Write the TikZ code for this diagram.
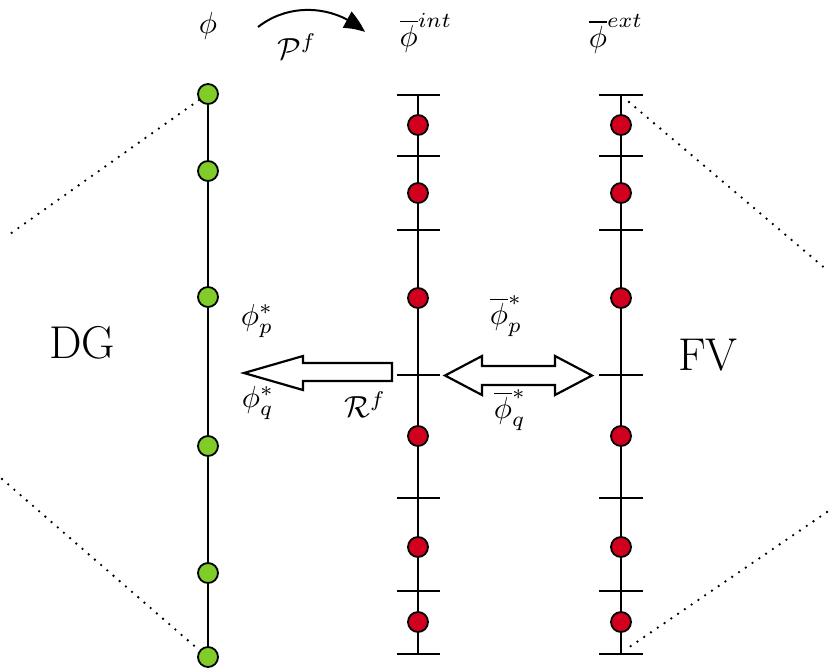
\documentclass[tikz,border=0pt]{standalone}
\usepackage{graphicx}
\usetikzlibrary{arrows.meta,bending}
\definecolor{dggreen}{RGB}{128,204,41}
\definecolor{fvred}{RGB}{208,0,30}
\newcommand{\bigmath}[1]{\scalebox{3.05}{$#1$}}
\begin{document}
\begin{tikzpicture}[x=1pt,y=-1pt,
  gdot/.style={circle,draw=black,fill=dggreen,line width=1.8pt,minimum size=20pt,inner sep=0pt},
  rdot/.style={circle,draw=black,fill=fvred,line width=1.8pt,minimum size=20pt,inner sep=0pt},
  axisline/.style={line width=2pt},
  tickline/.style={line width=2pt},
  dotline/.style={line width=2.6pt,line cap=round,dash pattern=on 0pt off 8.2pt},
  bigarrow/.style={draw=black,fill=white,line width=2.2pt,line join=miter},
  mlabel/.style={inner sep=0pt},
  tlabel/.style={font=\fontsize{46}{56}\selectfont,inner sep=0pt}]
\useasboundingbox (0,0) rectangle (829,667);

% columns
\coordinate (gtop) at (208,94);
\coordinate (gbot) at (208,657);
\coordinate (mtop) at (418,95);
\coordinate (mbot) at (418,654);
\coordinate (rtop) at (621,95);
\coordinate (rbot) at (621,654);

% dotted outlines
\coordinate (dl1) at (10,234);
\coordinate (dl2) at (2,479);
\coordinate (dr1) at (827,270);
\coordinate (dr2) at (827,512);
\draw[dotline] (199,100) -- (dl1);
\draw[dotline] (dl2) -- (199,650);
\draw[dotline] (629,102) -- (dr1);
\draw[dotline] (dr2) -- (628,648);

\draw[axisline] (gtop) -- (gbot);
\draw[axisline] (mtop) -- (mbot);
\draw[axisline] (rtop) -- (rbot);

% ticks
\foreach \y in {95,156,230,498,591,654}{
  \draw[tickline] (397,\y) -- (440,\y);
  \draw[tickline] (599,\y) -- (643,\y);
}
\draw[tickline] (397,375) -- (440,375);
\draw[tickline] (599,375) -- (643,375);

% dots
\foreach \y [count=\i] in {94,171,297,446,573,657}{
  \node[gdot] (g\i) at (208,\y) {};
}
\foreach \y [count=\i] in {125,193,298,436,547,622}{
  \node[rdot] (m\i) at (418,\y) {};
  \node[rdot] (r\i) at (621,\y) {};
}

% big arrows
\draw[bigarrow] (392,363) -- (303,363) -- (303,356) -- (244,373) -- (303,390) -- (303,381) -- (392,381) -- cycle;
\draw[bigarrow] (482,366) -- (555,366) -- (555,356) -- (592,375.5) -- (555,395) -- (555,385) -- (482,385) -- (482,395) -- (445,375.5) -- (482,356) -- cycle;

% labels
\node[mlabel] (phi) at (208,26) {\bigmath{\phi}};
\node[mlabel] (Pf) at (297,47) {\bigmath{\mathcal{P}^f}};
\node[mlabel] (phint) at (426,33) {\bigmath{\overline{\phi}^{int}}};
\node[mlabel] (phext) at (616,34) {\bigmath{\overline{\phi}^{ext}}};
\node[mlabel] (php) at (257,321) {\bigmath{\phi_p^*}};
\node[mlabel] (phq) at (258,403) {\bigmath{\phi_q^*}};
\node[mlabel] (Rf) at (365,405) {\bigmath{\mathcal{R}^f}};
\node[mlabel] (pbp) at (506,316) {\bigmath{\overline{\phi}_p^*}};
\node[mlabel] (pbq) at (510,410) {\bigmath{\overline{\phi}_q^*}};
\node[tlabel] (DG) at (82,343) {DG};
\node[tlabel] (FV) at (708,355) {FV};

\draw[line width=2pt,-{Triangle[length=22pt,width=18pt,bend]}] (258,27) .. controls (290,2) and (335,5) .. (365,32);
\end{tikzpicture}
\end{document}
